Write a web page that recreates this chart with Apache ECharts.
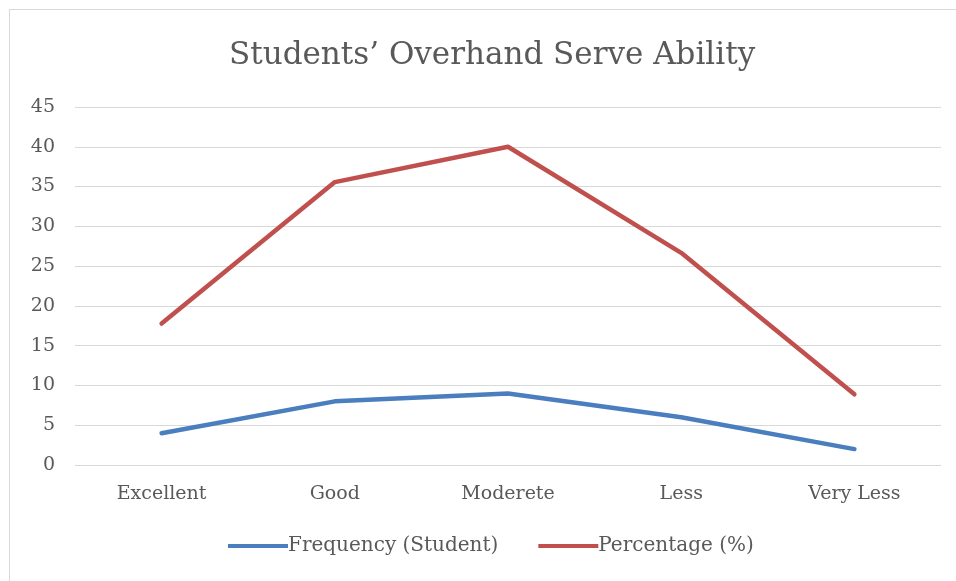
<!DOCTYPE html>
<html><head><meta charset="utf-8">
<script src="https://cdn.jsdelivr.net/npm/echarts@6/dist/echarts.min.js"></script>
<style>html,body{margin:0;padding:0;background:#fff;overflow:hidden}#c{width:956px;height:581px}
#frame{position:absolute;left:9px;top:9px;width:960px;height:590px;border-top:1px solid #d9d9d9;border-left:1px solid #d9d9d9;box-sizing:border-box;pointer-events:none}</style>
</head><body><div id="c"></div><div id="frame"></div>
<script>
const categories = ['Excellent', 'Good', 'Moderete', 'Less', 'Very Less'];
const frequency = [4, 8, 9, 6, 2];
const percentage = [17.78, 35.56, 40, 26.67, 8.89];
const yTicks = [0, 5, 10, 15, 20, 25, 30, 35, 40, 45];

const font = "'DejaVu Serif', 'Liberation Serif', serif";
const chart = echarts.init(document.getElementById('c'));
chart.setOption({
  animation: false,
  title: {
    text: 'Students\u2019 Overhand Serve Ability',
    left: 224, top: 35,
    textStyle: { fontFamily: font, fontSize: 31, fontWeight: 'normal', color: '#595959' }
  },
  grid: { left: 75, right: 15, top: 107, bottom: 116 },
  xAxis: {
    type: 'category', data: categories, boundaryGap: true,
    axisLine: { show: false }, axisTick: { show: false },
    axisLabel: { fontFamily: font, fontSize: 19, color: '#595959', margin: 20 }
  },
  yAxis: {
    type: 'value', min: yTicks[0], max: yTicks[yTicks.length - 1], interval: 5,
    axisLine: { show: false }, axisTick: { show: false },
    splitLine: { lineStyle: { color: '#d9d9d9', width: 1 } },
    axisLabel: { fontFamily: font, fontSize: 19, color: '#595959', margin: 20 }
  },
  legend: {
    bottom: 20, left: 223, itemGap: 40, itemWidth: 60, itemHeight: 4,
    icon: 'rect',
    textStyle: { fontFamily: font, fontSize: 20, color: '#595959', padding: [0, 0, 0, -5] },
    data: ['Frequency (Student)', 'Percentage (%)']
  },
  series: [
    { name: 'Frequency (Student)', type: 'line', data: frequency, symbol: 'none',
      lineStyle: { color: '#4a7ebf', width: 4.5, cap: 'round', join: 'round' }, itemStyle: { color: '#4a7ebf' } },
    { name: 'Percentage (%)', type: 'line', data: percentage, symbol: 'none',
      lineStyle: { color: '#c0504d', width: 4.5, cap: 'round', join: 'round' }, itemStyle: { color: '#c0504d' } }
  ]
});
</script></body></html>
